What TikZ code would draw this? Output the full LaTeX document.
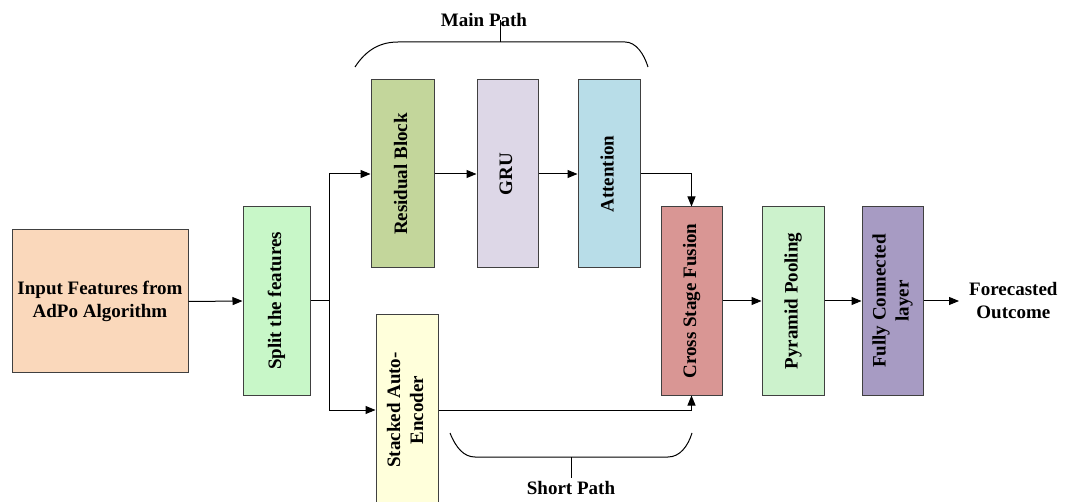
\documentclass[tikz,border=0pt]{standalone}
\usepackage{fontspec}
\setmainfont{Liberation Serif}
\usetikzlibrary{arrows.meta}
\definecolor{cInput}{HTML}{FAD8BB}
\definecolor{cSplit}{HTML}{C8F7C8}
\definecolor{cRes}{HTML}{C3D69B}
\definecolor{cGru}{HTML}{DDD7E7}
\definecolor{cAtt}{HTML}{B8DDE8}
\definecolor{cSae}{HTML}{FFFFDB}
\definecolor{cCross}{HTML}{D99694}
\definecolor{cPool}{HTML}{CCF2CC}
\definecolor{cFc}{HTML}{A79BC3}
\definecolor{cEdge}{HTML}{404040}
\tikzset{
  blk/.style={draw=cEdge, line width=1pt, inner sep=0pt, align=center,
    font=\fontsize{19}{23}\selectfont\bfseries},
  lbl/.style={align=center, inner sep=0pt, font=\fontsize{19}{23}\selectfont\bfseries},
  link/.style={line width=1pt, -{Triangle[length=10pt,width=8pt]}},
  plain/.style={line width=1pt},
}
\newcommand{\vtext}[1]{\rotatebox{90}{\begin{tabular}{@{}c@{}}#1\end{tabular}}}
\begin{document}
\begin{tikzpicture}[x=1pt,y=-1pt]
\useasboundingbox (0,0) rectangle (1068,502);

% processing blocks
\node[blk, fill=cInput, minimum width=176pt, minimum height=143pt] (inp) at (100,301.5) {Input Features from\\AdPo Algorithm};
\node[blk, fill=cSplit, minimum width=67pt, minimum height=188pt] (split) at (276.5,301) {\vtext{Split the features}};
\node[blk, fill=cRes, minimum width=63pt, minimum height=188pt] (res) at (402.5,174) {\vtext{Residual Block}};
\node[blk, fill=cGru, minimum width=61pt, minimum height=188pt] (gru) at (507.5,174) {\vtext{GRU}};
\node[blk, fill=cAtt, minimum width=62pt, minimum height=188pt] (att) at (609,174) {\vtext{Attention}};
\node[blk, fill=cSae, minimum width=62pt, minimum height=190pt] (sae) at (407,410) {\vtext{Stacked Auto-\\Encoder}};
\node[blk, fill=cCross, minimum width=61pt, minimum height=188pt] (cross) at (691.5,301) {\vtext{Cross Stage Fusion}};
\node[blk, fill=cPool, minimum width=62pt, minimum height=188pt] (pool) at (793,301) {\vtext{Pyramid Pooling}};
\node[blk, fill=cFc, minimum width=61pt, minimum height=188pt] (fc) at (892.5,301) {\vtext{Fully Connected\\layer}};
\node[lbl, anchor=west] (out) at (969,301) {Forecasted\\Outcome};

% connectors
\coordinate (fork) at ([xshift=19pt]split.east);
\draw[plain] (split.east) -- (fork);
\draw[link] (inp.east) -- (split.west);
\draw[link] (fork) |- (res.west);
\draw[link] (fork) |- (sae.west);
\draw[link] (res.east) -- (gru.west);
\draw[link] (gru.east) -- (att.west);
\draw[link] (att.east) -| (cross.north);
\draw[link] (sae.east) -| (cross.south);
\draw[link] (cross.east) -- (pool.west);
\draw[link] (pool.east) -- (fc.west);
\draw[link, shorten >=10pt] (fc.east) -- (out.west);

% brace over the main path
\node[lbl] (mainlbl) at (484,20) {Main Path};
\coordinate (mtip) at (500,20);
\draw[plain] (355,67) .. controls (366,50) and (380,42) .. (398,42) -- (625,42)
  .. controls (636,42) and (644,54) .. (648,67);
\draw[plain] (500,42) -- (mtip);

% brace under the short path
\node[lbl] (shortlbl) at (571,488) {Short Path};
\coordinate (stip) at (571,478);
\draw[plain] (450,433) .. controls (456,448) and (464,457) .. (475,457) -- (668,457)
  .. controls (680,457) and (688,446) .. (692,433);
\draw[plain] (571,457) -- (stip);
\end{tikzpicture}
\end{document}
